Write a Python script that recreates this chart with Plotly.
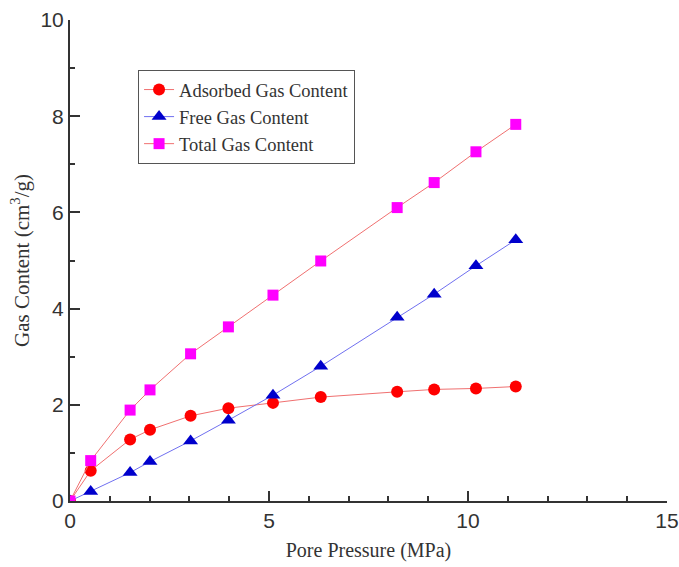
import plotly.graph_objects as go

pressure = [0, 0.52, 1.51, 2.01, 3.03, 3.98, 5.1, 6.3, 8.22, 9.15, 10.2, 11.2]
adsorbed = [0, 0.63, 1.28, 1.48, 1.77, 1.93, 2.04, 2.16, 2.27, 2.32, 2.34, 2.38]
free_gas = [0, 0.2, 0.59, 0.82, 1.25, 1.68, 2.2, 2.8, 3.82, 4.3, 4.89, 5.43]
total = [0, 0.84, 1.89, 2.31, 3.06, 3.62, 4.28, 4.99, 6.10, 6.62, 7.26, 7.83]

names = ["Adsorbed Gas Content", "Free Gas Content", "Total Gas Content"]

fig = go.Figure()
fig.add_trace(go.Scatter(x=pressure, y=adsorbed, name=names[0], mode="lines+markers",
                         line=dict(color="#f07070", width=1),
                         marker=dict(symbol="circle", size=12, color="#ff0000")))
fig.add_trace(go.Scatter(x=pressure, y=free_gas, name=names[1], mode="lines+markers",
                         line=dict(color="#7070f0", width=1),
                         marker=dict(symbol="triangle-up", size=13, color="#0000cc")))
fig.add_trace(go.Scatter(x=pressure, y=total, name=names[2], mode="lines+markers",
                         line=dict(color="#f07070", width=1),
                         marker=dict(symbol="square", size=11, color="#ff00ff")))

axis_common = dict(showline=True, linecolor="#333", linewidth=2, showgrid=False, zeroline=False,
                   ticks="inside", ticklen=10, tickwidth=2, tickcolor="#333",
                   tickfont=dict(family="Liberation Sans", size=21, color="#333"),
                   mirror=False, automargin=False)

fig.update_xaxes(range=[0, 15], dtick=5, tick0=0,
                 minor=dict(dtick=1, ticks="inside", ticklen=5, tickwidth=1.5, tickcolor="#333"),
                 title=dict(text="Pore Pressure (MPa)", font=dict(family="Liberation Serif", size=20, color="#333"), standoff=12),
                 **axis_common)
fig.update_yaxes(range=[0, 10], dtick=2, tick0=0,
                 minor=dict(dtick=1, ticks="inside", ticklen=5, tickwidth=1.5, tickcolor="#333"),
                 title=dict(text="Gas Content (cm<sup>3</sup>/g)", font=dict(family="Liberation Serif", size=21, color="#333"), standoff=5),
                 **axis_common)

fig.update_layout(width=679, height=567, margin=dict(l=70, r=12, t=20, b=66),
                  plot_bgcolor="white", paper_bgcolor="white",
                  legend=dict(x=0.114, y=0.896, xanchor="left", yanchor="top",
                              bordercolor="#555", borderwidth=1, bgcolor="white",
                              font=dict(family="Liberation Serif", size=18.5, color="#333"),
                              itemwidth=30, tracegroupgap=0))

fig.write_html("out.html", config={"displayModeBar": False},
               post_script="document.body.style.margin='0';")
